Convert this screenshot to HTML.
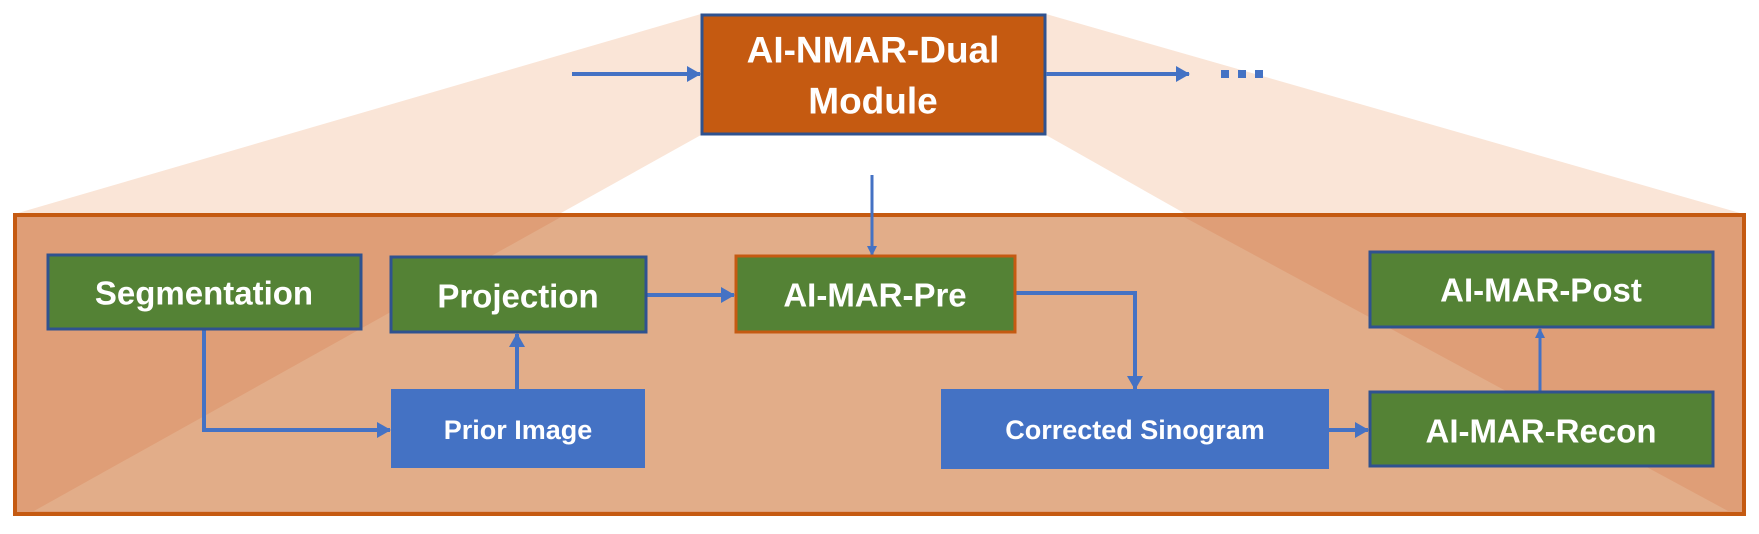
<!DOCTYPE html>
<html><head><meta charset="utf-8"><style>
html,body{margin:0;padding:0;background:#fff;}
svg{display:block;}
text{font-family:"Liberation Sans",sans-serif;font-weight:bold;fill:#fff;text-anchor:middle;dominant-baseline:central;}
</style></head><body>
<svg width="1759" height="534" viewBox="0 0 1759 534" xmlns="http://www.w3.org/2000/svg">
<defs>
<marker id="ah" markerWidth="10" markerHeight="10" refX="9" refY="5" orient="auto" markerUnits="userSpaceOnUse">
<path d="M0,0 L10,5 L0,10 z" fill="#4472C4"/></marker>
<marker id="ah2" markerWidth="14" markerHeight="16" refX="13" refY="8" orient="auto" markerUnits="userSpaceOnUse">
<path d="M0,0 L14,8 L0,16 z" fill="#4472C4"/></marker>
</defs>
<!-- fan above rect -->
<polygon points="701,14 1046,14 1740,213 1184,213 1046,135 701,135 561,213 18,213" fill="#FAE5D7"/>
<!-- outer rect -->
<rect x="15" y="215" width="1729" height="299" fill="#DF9E77" stroke="#C55A11" stroke-width="4"/>
<polygon points="561,217 1184,217 1728,511 34,511" fill="#E2AD89"/>
<!-- top box -->
<rect x="702" y="15" width="343" height="119" fill="#C55A11" stroke="#2F528F" stroke-width="3"/>
<text x="873" y="50" font-size="37">AI-NMAR-Dual</text>
<text x="873" y="101" font-size="37">Module</text>
<!-- top arrows -->
<line x1="572" y1="74" x2="700" y2="74" stroke="#4472C4" stroke-width="4" marker-end="url(#ah2)"/>
<line x1="1046" y1="74" x2="1189" y2="74" stroke="#4472C4" stroke-width="4" marker-end="url(#ah2)"/>
<rect x="1221" y="70" width="8" height="8" fill="#4472C4"/>
<rect x="1238" y="70" width="8" height="8" fill="#4472C4"/>
<rect x="1255" y="70" width="8" height="8" fill="#4472C4"/>
<!-- connectors -->
<line x1="872" y1="175" x2="872" y2="255" stroke="#4472C4" stroke-width="3" marker-end="url(#ah)"/>
<polyline points="204,330 204,430 390,430" fill="none" stroke="#4472C4" stroke-width="4" marker-end="url(#ah2)"/>
<line x1="517" y1="389" x2="517" y2="334" stroke="#4472C4" stroke-width="4" marker-end="url(#ah2)"/>
<line x1="647" y1="295" x2="734" y2="295" stroke="#4472C4" stroke-width="4" marker-end="url(#ah2)"/>
<polyline points="1016,293 1135,293 1135,389" fill="none" stroke="#4472C4" stroke-width="4" marker-end="url(#ah2)"/>
<line x1="1329" y1="430" x2="1368" y2="430" stroke="#4472C4" stroke-width="4" marker-end="url(#ah2)"/>
<line x1="1540" y1="391" x2="1540" y2="329" stroke="#4472C4" stroke-width="3" marker-end="url(#ah)"/>
<!-- boxes -->
<rect x="48" y="255" width="313" height="74" fill="#548235" stroke="#2F528F" stroke-width="3"/>
<text x="204" y="293" font-size="33">Segmentation</text>
<rect x="391" y="257" width="255" height="75" fill="#548235" stroke="#2F528F" stroke-width="3"/>
<text x="518" y="296" font-size="33">Projection</text>
<rect x="736" y="256" width="279" height="76" fill="#548235" stroke="#C55A11" stroke-width="3"/>
<text x="875" y="295" font-size="33">AI-MAR-Pre</text>
<rect x="1370" y="252" width="343" height="75" fill="#548235" stroke="#2F528F" stroke-width="3"/>
<text x="1541" y="290" font-size="33">AI-MAR-Post</text>
<rect x="391" y="389" width="254" height="79" fill="#4472C4"/>
<text x="518" y="430" font-size="27">Prior Image</text>
<rect x="941" y="389" width="388" height="80" fill="#4472C4"/>
<text x="1135" y="430" font-size="27">Corrected Sinogram</text>
<rect x="1370" y="392" width="343" height="74" fill="#548235" stroke="#2F528F" stroke-width="3"/>
<text x="1541" y="431" font-size="33">AI-MAR-Recon</text>
</svg>
</body></html>
